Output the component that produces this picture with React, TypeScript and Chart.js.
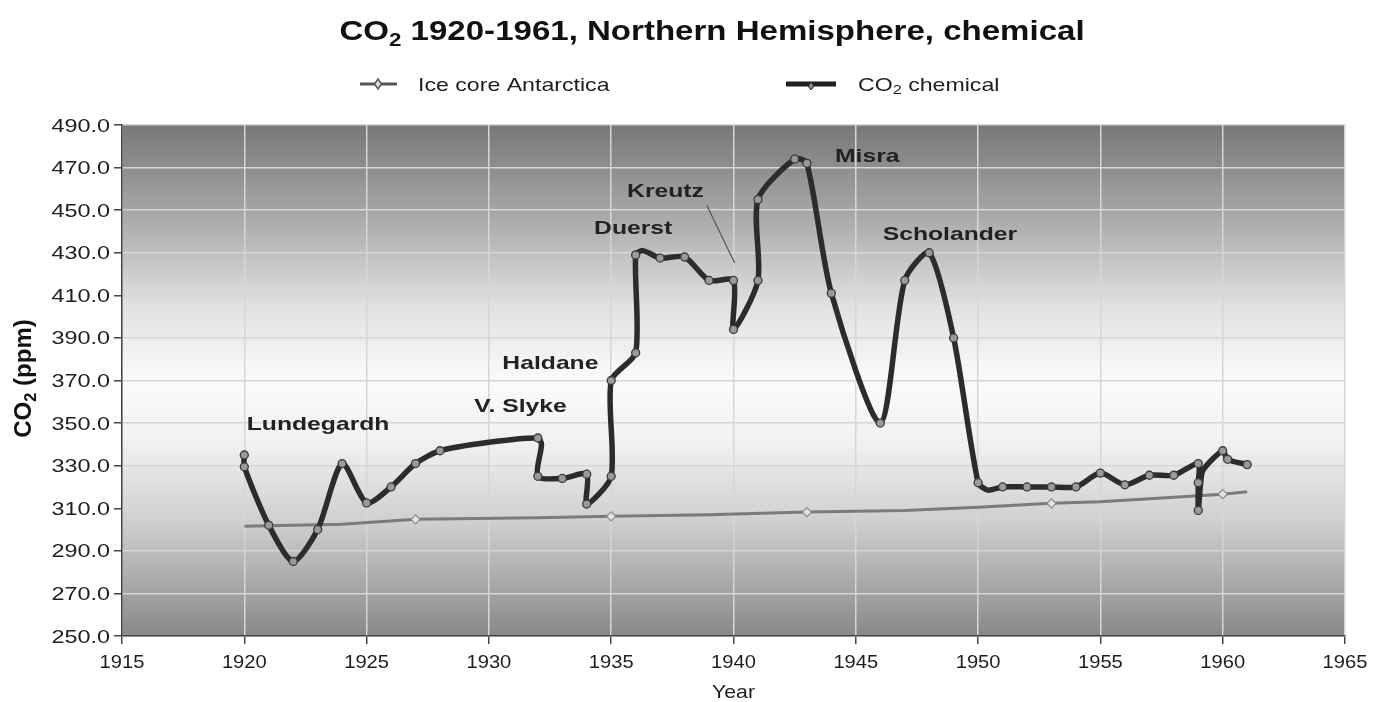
import React, { useEffect, useRef } from 'react';
import { Chart, registerables } from 'chart.js';

Chart.register(...registerables);

// ---- data ----
const chemYears = [
  1920, 1920, 1921, 1922, 1923, 1924, 1925, 1926, 1927, 1928, 1930, 1932, 1932.15, 1932, 1933,
  1934, 1934, 1935, 1935, 1936, 1936, 1936.3, 1937, 1938, 1939, 1940, 1940, 1941, 1941, 1942.5,
  1943, 1944, 1946, 1947, 1948, 1949, 1950, 1950.4, 1951, 1952, 1953, 1954, 1955, 1956, 1957,
  1958, 1959, 1959, 1959, 1959.1, 1959.2, 1960, 1960.2, 1961,
];
const chemValues = [
  335, 329.5, 302, 285, 300, 331, 312.5, 320, 331, 337, 341, 343, 340, 325, 324,
  326, 312, 325, 370, 383, 429, 431, 427.5, 428, 417, 417, 394, 417, 455, 474,
  472, 411, 350, 417, 430, 390, 322, 318.5, 320, 320, 320, 320, 326.5, 321, 325.5,
  325.5, 331, 322, 309, 322, 328, 337, 333, 330.5,
];
const chemMarkers = [
  true, true, true, true, true, true, true, true, true, true, false, true, false, true, true,
  true, true, true, true, true, true, false, true, true, true, true, true, true, true, true,
  true, true, true, true, true, true, true, false, true, true, true, true, true, true, true,
  true, true, true, true, false, false, true, true, true,
];

const iceYears = [1920, 1924, 1927, 1932, 1935, 1939, 1943, 1947, 1950, 1953, 1955, 1957, 1960, 1961];
const iceValues = [301.5, 302.5, 304.8, 305.5, 306.2, 307, 308.2, 309, 310.5, 312.3, 313, 314.5, 316.6, 317.8];
const iceMarkers = [false, false, true, false, true, false, true, false, false, true, false, false, true, false];

const xTickValues = [1915, 1920, 1925, 1930, 1935, 1940, 1945, 1950, 1955, 1960, 1965];
const yTickValues = [250, 270, 290, 310, 330, 350, 370, 390, 410, 430, 450, 470, 490];

const noteNames = ['Lundegardh', 'V. Slyke', 'Haldane', 'Duerst', 'Kreutz', 'Misra', 'Scholander'];
const noteYears = [1920.1, 1929.4, 1930.55, 1934.3, 1935.65, 1944.15, 1946.1];
const noteValues = [350, 358.5, 378.7, 442, 459.5, 476, 439.3];
const kreutzLeaderYears = [1938.9, 1940.05];
const kreutzLeaderValues = [452.4, 425.2];

const seriesNames = ['Ice core Antarctica', 'CO2 chemical'];

const FONT = '"Liberation Sans", Arial, sans-serif';
const SX = 1.25;

type Part = { text: string; size: number; bold?: boolean; dy?: number };

function drawParts(ctx: CanvasRenderingContext2D, parts: Part[], x: number, y: number, align: 'left' | 'center' | 'right', sx: number, color: string) {
  ctx.save();
  ctx.fillStyle = color;
  ctx.textBaseline = 'alphabetic';
  ctx.textAlign = 'left';
  let total = 0;
  const widths = parts.map((p) => {
    ctx.font = `${p.bold ? 'bold ' : ''}${p.size}px ${FONT}`;
    const w = ctx.measureText(p.text).width;
    total += w;
    return w;
  });
  total *= sx;
  let start = x;
  if (align === 'center') start = x - total / 2;
  if (align === 'right') start = x - total;
  ctx.translate(start, y);
  ctx.scale(sx, 1);
  let cx = 0;
  parts.forEach((p, i) => {
    ctx.font = `${p.bold ? 'bold ' : ''}${p.size}px ${FONT}`;
    ctx.fillText(p.text, cx, p.dy || 0);
    cx += widths[i];
  });
  ctx.restore();
}

const decorPlugin = {
  id: 'decor',
  beforeDraw(chart: any) {
    const { ctx, chartArea: a, width, height } = chart;
    ctx.save();
    ctx.fillStyle = '#ffffff';
    ctx.fillRect(0, 0, width, height);
    const g = ctx.createLinearGradient(0, a.top, 0, a.bottom);
    g.addColorStop(0, '#787878');
    g.addColorStop(0.15, '#a0a0a0');
    g.addColorStop(0.35, '#e0e0e0');
    g.addColorStop(0.5, '#fbfbfb');
    g.addColorStop(0.62, '#f1f1f1');
    g.addColorStop(0.78, '#cecece');
    g.addColorStop(1, '#888888');
    ctx.fillStyle = g;
    ctx.fillRect(a.left, a.top, a.right - a.left, a.bottom - a.top);
    ctx.restore();
  },
  afterDraw(chart: any) {
    const { ctx, chartArea: a } = chart;
    const xs = chart.scales.x;
    const ys = chart.scales.y;
    const txt = '#1e1e1e';

    // Title
    drawParts(ctx, [
      { text: 'CO', size: 28, bold: true },
      { text: '2', size: 19, bold: true, dy: 6 },
      { text: ' 1920-1961, Northern Hemisphere, chemical', size: 28, bold: true },
    ], 712, 40, 'center', 1.18, '#111');

    // Legend
    ctx.save();
    ctx.strokeStyle = '#555';
    ctx.lineWidth = 3;
    ctx.beginPath(); ctx.moveTo(360, 84); ctx.lineTo(397, 84); ctx.stroke();
    ctx.fillStyle = '#dddddd';
    ctx.lineWidth = 1.5;
    ctx.beginPath(); ctx.moveTo(378, 79); ctx.lineTo(381.5, 84); ctx.lineTo(378, 89); ctx.lineTo(374.5, 84); ctx.closePath();
    ctx.fill(); ctx.stroke();
    ctx.strokeStyle = '#222';
    ctx.lineWidth = 5;
    ctx.beginPath(); ctx.moveTo(786, 84); ctx.lineTo(836, 84); ctx.stroke();
    ctx.fillStyle = '#888';
    ctx.lineWidth = 1;
    ctx.beginPath(); ctx.moveTo(811, 82); ctx.lineTo(814, 86); ctx.lineTo(811, 90); ctx.lineTo(808, 86); ctx.closePath();
    ctx.fill(); ctx.stroke();
    ctx.restore();
    drawParts(ctx, [{ text: seriesNames[0], size: 18.5 }], 418, 91, 'left', SX, txt);
    drawParts(ctx, [
      { text: 'CO', size: 18.5 },
      { text: '2', size: 13, dy: 3 },
      { text: ' chemical', size: 18.5 },
    ], 858, 91, 'left', SX, txt);

    // Y tick labels
    yTickValues.forEach((v) => {
      const py = ys.getPixelForValue(v);
      drawParts(ctx, [{ text: v.toFixed(1), size: 18 }], a.left - 12, py + 6.5, 'right', 1.3, txt);
    });
    // X tick labels
    xTickValues.forEach((v) => {
      const px = xs.getPixelForValue(v);
      drawParts(ctx, [{ text: String(v), size: 17.5 }], px, a.bottom + 32, 'center', 1.15, txt);
    });
    // X title
    drawParts(ctx, [{ text: 'Year', size: 18.5 }], (a.left + a.right) / 2, a.bottom + 62, 'center', 1.15, txt);

    // Y title (rotated)
    ctx.save();
    ctx.translate(31, (a.top + a.bottom) / 2 - 2);
    ctx.rotate(-Math.PI / 2);
    drawParts(ctx, [
      { text: 'CO', size: 24, bold: true },
      { text: '2', size: 16.5, bold: true, dy: 5 },
      { text: ' (ppm)', size: 24, bold: true },
    ], 0, 0, 'center', 1.0, '#111');
    ctx.restore();

    // Annotations
    noteNames.forEach((n, i) => {
      const px = xs.getPixelForValue(noteYears[i]);
      const py = ys.getPixelForValue(noteValues[i]);
      drawParts(ctx, [{ text: n, size: 19, bold: true }], px, py + 7, 'left', 1.3, '#222');
    });
    ctx.save();
    ctx.strokeStyle = '#555';
    ctx.lineWidth = 1.2;
    ctx.beginPath();
    ctx.moveTo(xs.getPixelForValue(kreutzLeaderYears[0]), ys.getPixelForValue(kreutzLeaderValues[0]));
    ctx.lineTo(xs.getPixelForValue(kreutzLeaderYears[1]), ys.getPixelForValue(kreutzLeaderValues[1]));
    ctx.stroke();
    ctx.restore();
  },
};

export default function App() {
  const ref = useRef<HTMLCanvasElement | null>(null);
  useEffect(() => {
    if (!ref.current) return;
    const chemData = chemYears.map((x, i) => ({ x, y: chemValues[i] }));
    const iceData = iceYears.map((x, i) => ({ x, y: iceValues[i] }));
    const chart = new Chart(ref.current, {
      type: 'line',
      data: {
        datasets: [
          {
            label: seriesNames[1],
            data: chemData,
            borderColor: '#2c2c2c',
            borderWidth: 5.5,
            pointRadius: chemMarkers.map((m) => (m ? 4 : 0)),
            pointBackgroundColor: '#9a9a9a',
            pointBorderColor: '#3a3a3a',
            pointBorderWidth: 1.3,
            tension: 0.25,
            order: 0,
          },
          {
            label: seriesNames[0],
            data: iceData,
            borderColor: '#7b7b7b',
            borderWidth: 3,
            pointRadius: iceMarkers.map((m) => (m ? 4.5 : 0)),
            pointStyle: 'rectRot',
            pointBackgroundColor: '#e4e4e4',
            pointBorderColor: '#8a8a8a',
            pointBorderWidth: 1.2,
            tension: 0,
            order: 1,
          },
        ],
      },
      options: {
        animation: false,
        responsive: true,
        maintainAspectRatio: false,
        devicePixelRatio: 1,
        layout: { padding: { top: 125, right: 42, left: 0, bottom: 0 } },
        plugins: { legend: { display: false }, tooltip: { enabled: false }, title: { display: false } },
        scales: {
          x: {
            type: 'linear',
            min: 1915,
            max: 1965,
            afterFit: (s: any) => { s.height = 66; },
            afterBuildTicks: (s: any) => { s.ticks = xTickValues.map((v) => ({ value: v })); },
            ticks: { color: 'rgba(0,0,0,0)', font: { size: 17 } },
            grid: { color: '#d6d6d6', lineWidth: 1.5, tickColor: '#444', tickLength: 8, drawTicks: true },
            border: { color: '#444', width: 1.5 },
          },
          y: {
            type: 'linear',
            min: 250,
            max: 490,
            afterFit: (s: any) => { s.width = 122; },
            afterBuildTicks: (s: any) => { s.ticks = yTickValues.map((v) => ({ value: v })); },
            ticks: { color: 'rgba(0,0,0,0)', font: { size: 17 } },
            grid: { color: '#d6d6d6', lineWidth: 1.5, tickColor: '#444', tickLength: 8, drawTicks: true },
            border: { color: '#444', width: 1.5 },
          },
        },
      },
      plugins: [decorPlugin],
    });
    return () => chart.destroy();
  }, []);
  return (
    <div style={{ position: 'fixed', left: 0, top: 0, width: 1387, height: 702, background: '#fff' }}>
      <canvas ref={ref} />
    </div>
  );
}
